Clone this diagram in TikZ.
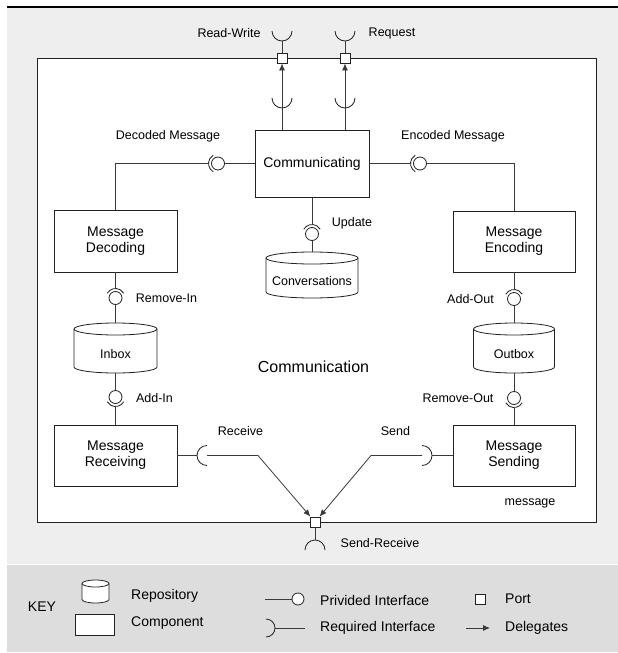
\documentclass[tikz,border=0pt]{standalone}
\usepackage{fontspec}
\setmainfont{Liberation Sans}
\usetikzlibrary{arrows.meta,calc}
\definecolor{bgA}{HTML}{EEEEEE}
\definecolor{bgKey}{HTML}{DDDDDD}
\definecolor{ink}{HTML}{222222}
\definecolor{wirec}{HTML}{3A3A3A}

% name, x, body-center y, width, body height, ellipse ry, text
\newcommand\repository[7]{%
  \path[draw=ink, fill=white, line width=0.8pt]
    (#2-#4/2, #3-#5/2-#6) -- (#2-#4/2, #3+#5/2-#6)
    arc[start angle=180, end angle=0, x radius=#4/2, y radius=#6]
    -- (#2+#4/2, #3-#5/2-#6)
    arc[start angle=0, end angle=-180, x radius=#4/2, y radius=#6] -- cycle;
  \draw[ink, line width=0.8pt] (#2-#4/2, #3-#5/2-#6)
    arc[start angle=180, end angle=0, x radius=#4/2, y radius=#6];
  \node[repo, minimum width=#4pt, minimum height=#5pt] (#1) at (#2,#3) {#7};
  \coordinate (#1top) at (#2, #3-#5/2-2*#6);
}
% name, x, y, start angle, end angle
\newcommand\ballsock[5]{%
  \node[ball] (#1) at (#2,#3) {};
  \draw[sock] ([shift={(#4:9.5)}]#1.center) arc[start angle=#4, end angle=#5, radius=9.5];
}

\begin{document}
\begin{tikzpicture}[x=1pt,y=-1pt,
  comp/.style={draw=ink, line width=0.8pt, fill=white, align=center,
    font=\fontsize{14}{16}\selectfont, inner sep=0pt},
  repo/.style={inner sep=0pt, font=\fontsize{12.5}{14}\selectfont, align=center},
  lbl/.style={font=\fontsize{12.5}{14}\selectfont, inner sep=0pt},
  keylbl/.style={font=\fontsize{14}{16}\selectfont, inner sep=0pt, anchor=west},
  wire/.style={draw=wirec, line width=0.8pt},
  ball/.style={circle, draw=ink, line width=0.8pt, fill=white, minimum size=13pt, inner sep=0pt},
  port/.style={rectangle, draw=ink, line width=0.8pt, fill=white, minimum size=10pt, inner sep=0pt},
  deleg/.style={wire, -{Latex[length=7pt,width=6pt]}},
  sock/.style={draw=ink, line width=0.8pt},
]
\useasboundingbox (0,0) rectangle (618,653);
% backgrounds
\fill[bgA] (7,7) rectangle (618,563.5);
\fill[bgKey] (7,565) rectangle (618,652);
\draw[black, line width=1.2pt] (7,7) -- (618,7);
\node[draw=ink, line width=1pt, fill=white, minimum width=559pt, minimum height=464pt, inner sep=0pt] (frame) at (316.5,290) {};

% components
\node[comp, minimum width=114pt, minimum height=67pt] (comm) at (312,163.5) {Communicating};
\node[comp, minimum width=123pt, minimum height=62pt] (dec) at (115.5,241) {Message\\Decoding};
\node[comp, minimum width=122pt, minimum height=61pt] (enc) at (514,241.5) {Message\\Encoding};
\node[comp, minimum width=123pt, minimum height=61pt] (recv) at (115.5,455.5) {Message\\Receiving};
\node[comp, minimum width=122pt, minimum height=61pt] (send) at (514,455.5) {Message\\Sending};

% repositories
\repository{conv}{312}{281}{92}{34}{6}{Conversations}
\repository{inbox}{115.5}{354}{83}{38}{6}{Inbox}
\repository{outbox}{514}{354}{81}{38}{6}{Outbox}

% ball and socket interfaces
\ballsock{dball}{218}{163.5}{120}{240}
\ballsock{eball}{420}{163.5}{120}{240}
\ballsock{uball}{312}{234}{210}{330}
\ballsock{riball}{115.5}{298}{210}{330}
\ballsock{aiball}{115.5}{397}{30}{150}
\ballsock{aoball}{514}{299}{210}{330}
\ballsock{roball}{514}{398}{30}{150}

\draw[wire] (dec.north) |- ([xshift=-9.5pt]dball.center);
\draw[wire] (dball.east) -- (comm.west);
\draw[wire] (comm.east) -- ([xshift=-9.5pt]eball.center);
\draw[wire] (eball.east) -| (enc.north);
\draw[wire] (comm.south) -- ([yshift=9.5pt]uball.center);
\draw[wire] (uball.south) -- (convtop);
\draw[wire] (dec.south) -- ([yshift=9.5pt]riball.center);
\draw[wire] (riball.south) -- (inboxtop);
\draw[wire] (inbox.south) -- (aiball.north);
\draw[wire] ([yshift=-9.5pt]aiball.center) -- (recv.north);
\draw[wire] (enc.south) -- ([yshift=9.5pt]aoball.center);
\draw[wire] (aoball.south) -- (outboxtop);
\draw[wire] (outbox.south) -- (roball.north);
\draw[wire] ([yshift=-9.5pt]roball.center) -- (send.north);

% ports
\node[port] (prw) at (282,58) {};
\node[port] (preq) at (345,58) {};
\node[port] (psr) at (315,522) {};

% top delegations
\coordinate (rwin) at (282,98);
\coordinate (reqin) at (345,98);
\draw[sock] ([xshift=10pt]rwin) arc[start angle=0, end angle=180, radius=10];
\draw[sock] ([xshift=10pt]reqin) arc[start angle=0, end angle=180, radius=10];
\draw[deleg] (prw |- comm.north) -- (prw);
\draw[deleg] (preq |- comm.north) -- (preq);
\coordinate (rwout) at (282,31);
\coordinate (reqout) at (345,31);
\draw[sock] ([xshift=10pt]rwout) arc[start angle=0, end angle=180, radius=10];
\draw[sock] ([xshift=10pt]reqout) arc[start angle=0, end angle=180, radius=10];
\draw[wire] (prw.north) -- ([yshift=-10pt]rwout);
\draw[wire] (preq.north) -- ([yshift=-10pt]reqout);

% bottom delegations
\coordinate (rcvsock) at (207,455.5);
\coordinate (rcvbend) at (258,455.5);
\draw[sock] ([yshift=-10pt]rcvsock) arc[start angle=90, end angle=270, radius=10];
\draw[wire] (recv.east) -- ([xshift=-10pt]rcvsock);
\draw[deleg] (rcvsock) -- (rcvbend) -- (psr);
\coordinate (sndsock) at (422,455.5);
\coordinate (sndbend) at (371,455.5);
\draw[sock] ([yshift=10pt]sndsock) arc[start angle=-90, end angle=90, radius=10];
\draw[wire] ([xshift=10pt]sndsock) -- (send.west);
\draw[deleg] (sndsock) -- (sndbend) -- (psr);
\coordinate (srout) at (315,550);
\draw[sock] ([xshift=-10pt]srout) arc[start angle=180, end angle=360, radius=10];
\draw[wire] (psr.south) -- ([yshift=10pt]srout);

% labels
\node[lbl] (lrw) at (229,33) {Read-Write};
\node[lbl] (lreq) at (392,33) {Request};
\node[lbl] (ldec) at (168,136) {Decoded Message};
\node[lbl] (lenc) at (453,136) {Encoded Message};
\node[lbl] (lupd) at (352,223) {Update};
\node[lbl] (lri) at (166.5,298) {Remove-In};
\node[lbl] (lai) at (154.5,398) {Add-In};
\node[lbl] (lao) at (470.5,299) {Add-Out};
\node[lbl] (lro) at (458,398) {Remove-Out};
\node[lbl] (lrcv) at (240.5,431) {Receive};
\node[lbl] (lsnd) at (395.5,431) {Send};
\node[lbl] (lsr) at (380,543) {Send-Receive};
\node[lbl] (lmsg) at (530,503) {message};
\node[font=\fontsize{16}{18}\selectfont, inner sep=0pt] (lcomm) at (313.5,367) {Communication};

% key
\node[font=\fontsize{14}{16}\selectfont, inner sep=0pt] (keyt) at (42,607) {KEY};
\repository{keyrepo}{95.5}{595}{27}{16}{3.5}{}
\node[comp, minimum width=39pt, minimum height=21pt] (keycomp) at (94.5,624.5) {};
\node[keylbl] (krepo) at (131,596) {Repository};
\node[keylbl] (kcomp) at (131,623) {Component};
\node[ball, minimum size=12pt] (kball) at (298,599) {};
\coordinate (kballend) at (265,599);
\draw[wire] (kballend) -- (kball);
\node[keylbl] (kprov) at (320,600) {Privided Interface};
\coordinate (kreq) at (266,628);
\coordinate (kreqend) at (305,628);
\draw[sock] ([yshift=9pt]kreq) arc[start angle=-90, end angle=90, radius=9];
\draw[wire] ([xshift=9pt]kreq) -- (kreqend);
\node[keylbl] (kreqt) at (320,628) {Required Interface};
\node[port] (kport) at (480,599) {};
\node[keylbl] (kportt) at (505,599) {Port};
\coordinate (kdelA) at (466,628);
\coordinate (kdelB) at (490,628);
\draw[deleg] (kdelA) -- (kdelB);
\node[keylbl] (kdelt) at (505,628) {Delegates};
\end{tikzpicture}
\end{document}
